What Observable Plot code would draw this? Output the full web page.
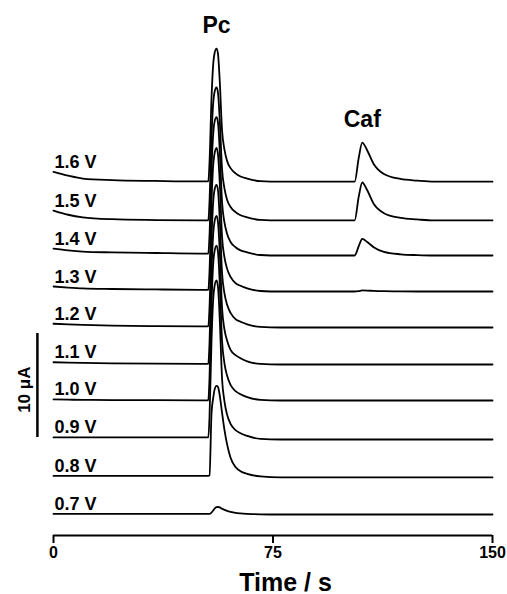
<!DOCTYPE html>
<html>
<head>
<meta charset="utf-8">
<script src="https://cdn.jsdelivr.net/npm/d3@7"></script>
<script src="https://cdn.jsdelivr.net/npm/@observablehq/plot@0.6"></script>
<style>
  html, body { margin: 0; padding: 0; background: #fff; }
  #chart { width: 507px; height: 594px; }
</style>
</head>
<body>
<div id="chart"></div>
<script>
// Trace labels (applied potential), top to bottom
const traces = ["1.6 V", "1.5 V", "1.4 V", "1.3 V", "1.2 V", "1.1 V", "1.0 V", "0.9 V", "0.8 V", "0.7 V"];
// Vertical stacking offset of each trace baseline (µA)
const offsets = [32.0, 28.27, 24.9, 21.44, 17.98, 14.42, 10.96, 7.21, 3.56, 0];

// Initial baseline drift (µA above baseline) at these times (s)
const driftTimes = [0, 5, 10, 20, 35, 50];
const driftCurrent = [
  [0.95, 0.58, 0.30, 0.15, 0.07, 0.02],
  [0.95, 0.55, 0.30, 0.12, 0.04, 0.00],
  [0.67, 0.50, 0.38, 0.30, 0.24, 0.19],
  [0.48, 0.38, 0.30, 0.24, 0.20, 0.16],
  [0.36, 0.30, 0.25, 0.18, 0.13, 0.10],
  [0.22, 0.18, 0.15, 0.11, 0.08, 0.07],
  [0.10, 0.08, 0.06, 0.04, 0.03, 0.02],
  [0.20, 0.20, 0.20, 0.20, 0.20, 0.20],
  [0.15, 0.15, 0.15, 0.15, 0.15, 0.15],
  [0.05, 0.05, 0.05, 0.05, 0.05, 0.05]
];

// Paracetamol (Pc) peak, read at these times (s)
const pcTimes = [52.9, 53.3, 54.0, 54.6, 55.0, 55.7, 56.2, 56.8, 57.6, 58.4, 59.3, 60.5, 62.2, 63.9, 66.2, 70.7, 77.6];
const pcCurrent = [
  [0.02, 1.8, 8.1, 11.4, 12.3, 12.8, 12.3, 9.7, 4.9, 3.1, 2.0, 1.3, 0.8, 0.5, 0.3, 0.05, 0],
  [0.00, 1.8, 8.1, 11.4, 12.3, 12.8, 12.3, 9.7, 4.9, 3.1, 2.0, 1.3, 0.8, 0.5, 0.3, 0.05, 0],
  [0.19, 1.9, 8.4, 11.8, 12.8, 13.3, 12.8, 10.1, 5.1, 3.2, 2.1, 1.3, 0.8, 0.5, 0.3, 0.05, 0],
  [0.16, 1.9, 8.7, 12.3, 13.2, 13.8, 13.2, 10.5, 5.2, 3.3, 2.2, 1.4, 0.8, 0.55, 0.3, 0.05, 0],
  [0.10, 1.9, 8.6, 12.2, 13.2, 13.7, 13.2, 10.4, 5.2, 3.3, 2.2, 1.4, 0.8, 0.55, 0.3, 0.05, 0],
  [0.07, 2.0, 9.0, 12.7, 13.7, 14.3, 13.7, 10.9, 5.4, 3.4, 2.3, 1.4, 0.9, 0.6, 0.3, 0.06, 0],
  [0.02, 2.1, 9.4, 13.3, 14.3, 14.9, 14.3, 11.3, 5.7, 3.6, 2.4, 1.5, 0.9, 0.6, 0.33, 0.06, 0],
  [0.20, 2.1, 9.6, 13.6, 14.7, 15.3, 14.7, 11.6, 5.8, 3.7, 2.4, 1.5, 0.9, 0.6, 0.34, 0.06, 0],
  [0.15, 0.2, 6.2, 7.7, 8.4, 8.8, 8.7, 7.9, 6.2, 4.6, 3.2, 1.9, 1.0, 0.6, 0.35, 0.1, 0],
  [0.05, 0.05, 0.2, 0.4, 0.55, 0.7, 0.72, 0.68, 0.55, 0.45, 0.35, 0.25, 0.15, 0.1, 0.06, 0.02, 0]
];

// Caffeine (Caf) peak, read at these times (s)
const cafTimes = [100, 102.9, 104.3, 105.5, 107.2, 109.4, 112.9, 118.6, 124.3, 130];
const cafCurrent = [
  [0, 0, 2.3, 3.75, 3.0, 1.7, 0.74, 0.26, 0.1, 0],
  [0, 0, 2.3, 3.65, 2.9, 1.6, 0.7, 0.25, 0.1, 0],
  [0, 0, 0.9, 1.6, 1.3, 0.8, 0.35, 0.12, 0.04, 0],
  [0, 0, 0.04, 0.1, 0.09, 0.06, 0.03, 0.01, 0, 0],
  [0, 0, 0, 0, 0, 0, 0, 0, 0, 0],
  [0, 0, 0, 0, 0, 0, 0, 0, 0, 0],
  [0, 0, 0, 0, 0, 0, 0, 0, 0, 0],
  [0, 0, 0, 0, 0, 0, 0, 0, 0, 0],
  [0, 0, 0, 0, 0, 0, 0, 0, 0, 0],
  [0, 0, 0, 0, 0, 0, 0, 0, 0, 0]
];
const endTime = 150;

const xTicks = [0, 75, 150];
const peakLabels = ["Pc", "Caf"];
const scaleBar = {value: 10, label: "10 \u03bcA"};

// ---- build table ----
const rows = [];
traces.forEach((name, i) => {
  const push = (t, v) => rows.push({trace: name, t, I: offsets[i] + v});
  driftTimes.forEach((t, k) => push(t, driftCurrent[i][k]));
  pcTimes.forEach((t, k) => push(t, pcCurrent[i][k]));
  cafTimes.forEach((t, k) => push(t, cafCurrent[i][k]));
  push(endTime, 0);
});
const labelRows = traces.map((name, i) => ({name, t: 0, I: offsets[i] + driftCurrent[i][0]}));
const pcPeak = {t: pcTimes[5], I: offsets[0] + pcCurrent[0][5], text: peakLabels[0]};
const cafPeak = {t: cafTimes[3], I: offsets[0] + cafCurrent[0][3], text: peakLabels[1]};

const font = "'Liberation Sans', Arial, Helvetica, sans-serif";
const yLo = -2.02, yHi = 49.42;
const barLow = 7.4;

const chart = Plot.plot({
  width: 507,
  height: 594,
  marginLeft: 53,
  marginRight: 15,
  marginTop: 0,
  marginBottom: 59,
  style: {fontFamily: font, background: "#fff", color: "#000", overflow: "visible"},
  x: {domain: [0, 150]},
  y: {domain: [yLo, yHi], axis: null},
  marks: [
    Plot.ruleY([yLo], {x1: 0, x2: 150, stroke: "#000", strokeWidth: 2}),
    Plot.axisX({ticks: xTicks, tickSize: 8, tickPadding: 3, fontSize: 16, fontWeight: "bold",
      strokeWidth: 2, stroke: "#000", fill: "#000", label: null}),
    Plot.text([{t: 79.3, s: "Time / s"}], {x: "t", text: "s", frameAnchor: "bottom", dy: 47,
      fontSize: 25, fontWeight: "bold", fill: "#000", lineAnchor: "middle"}),
    Plot.line(rows, {x: "t", y: "I", z: "trace", curve: "monotone-x", stroke: "#000", strokeWidth: 1.8}),
    Plot.text(labelRows, {x: "t", y: "I", text: "name", textAnchor: "start", lineAnchor: "bottom",
      dx: 1, dy: -4, fontSize: 18, fontWeight: "bold", fill: "#000"}),
    Plot.text([pcPeak, cafPeak], {x: "t", y: "I", text: "text", dy: -23, lineAnchor: "middle",
      fontSize: 23, fontWeight: "bold", fill: "#000"}),
    Plot.ruleX([-5.5], {y1: barLow, y2: barLow + scaleBar.value, stroke: "#000", strokeWidth: 2.5}),
    Plot.text([{t: -9.9, I: barLow + scaleBar.value / 2 - 0.4}], {x: "t", y: "I", text: () => scaleBar.label,
      rotate: -90, fontSize: 17, fontWeight: "bold", fill: "#000", lineAnchor: "middle"})
  ]
});
document.getElementById("chart").appendChild(chart);
</script>
</body>
</html>
